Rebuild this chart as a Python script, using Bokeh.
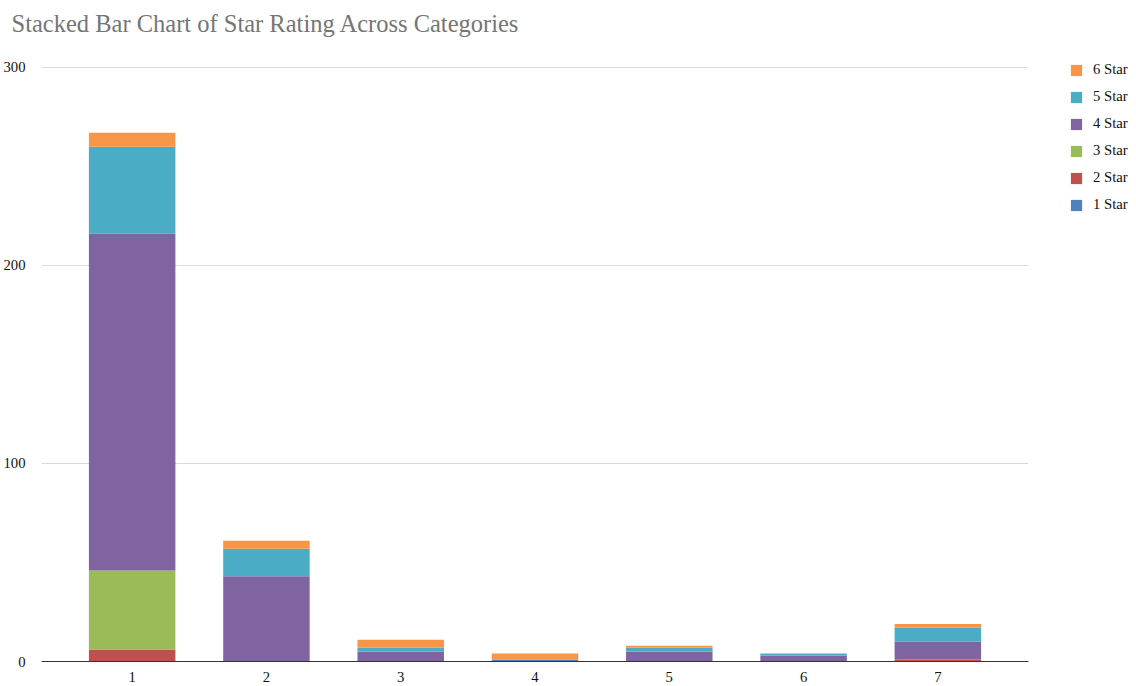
from bokeh.plotting import figure
from bokeh.models import Range1d, FixedTicker, Legend, LegendItem, ColumnDataSource, Title
from bokeh.embed import file_html
from bokeh.resources import INLINE

categories = [1, 2, 3, 4, 5, 6, 7]
star1 = [0, 0, 0, 1, 0, 0, 0]
star2 = [6, 0, 0, 0, 0, 0, 1]
star3 = [40, 0, 0, 0, 0, 0, 0]
star4 = [170, 43, 5, 0, 5, 3, 9]
star5 = [44, 14, 2, 0, 2, 1, 7]
star6 = [7, 4, 4, 3, 1, 0, 2]
series_names = ["1 Star", "2 Star", "3 Star", "4 Star", "5 Star", "6 Star"]
colors = ["#4F81BD", "#C0504D", "#9BBB59", "#8064A2", "#4BACC6", "#F79646"]
y_ticks = [0, 100, 200, 300]

FONT = "Liberation Serif"

source = ColumnDataSource(dict(x=categories, s1=star1, s2=star2, s3=star3,
                               s4=star4, s5=star5, s6=star6))

p = figure(width=1136, height=686, frame_width=987, frame_height=595,
           output_backend="svg", toolbar_location=None,
           x_range=Range1d(0.325, 7.675), y_range=Range1d(0, 300.5),
           title="Stacked Bar Chart of Star Rating Across Categories",
           min_border_left=40, min_border_right=109, min_border_top=66,
           min_border_bottom=24)

p.title.text_font = FONT
p.title.text_font_size = "24.5px"
p.title.text_font_style = "normal"
p.title.text_color = "#757575"
p.title.offset = -30
p.title.standoff = 0

# empty spacer between the title and the plot area
spacer = Title(text=" ", text_font_size="1px", standoff=27)
p.add_layout(spacer, "above")

renderers = p.vbar_stack(["s1", "s2", "s3", "s4", "s5", "s6"], x="x", width=0.644,
                         fill_color=colors, line_color=None, source=source)

p.outline_line_color = None
p.xgrid.grid_line_color = None
p.ygrid.grid_line_color = "#d9d9d9"
p.ygrid.ticker = FixedTicker(ticks=y_ticks)

p.yaxis.ticker = FixedTicker(ticks=y_ticks)
p.yaxis.axis_line_color = None
p.yaxis.major_tick_line_color = None
p.yaxis.minor_tick_line_color = None
p.yaxis.major_label_standoff = 10
p.yaxis.major_label_text_font = FONT
p.yaxis.major_label_text_font_size = "14.7px"
p.yaxis.major_label_text_color = "#111111"

p.xaxis.ticker = FixedTicker(ticks=categories)
p.xaxis.axis_line_color = "#333333"
p.xaxis.major_tick_line_color = None
p.xaxis.minor_tick_line_color = None
p.xaxis.major_label_standoff = 4
p.xaxis.major_label_text_font = FONT
p.xaxis.major_label_text_font_size = "14.7px"
p.xaxis.major_label_text_color = "#111111"

items = [LegendItem(label=series_names[i], renderers=[renderers[i]])
         for i in range(len(series_names) - 1, -1, -1)]
legend = Legend(items=items, location=(41, 448), orientation="vertical",
                glyph_width=14, glyph_height=14, label_standoff=10,
                label_height=14, spacing=10, padding=0, margin=0,
                border_line_color=None, background_fill_alpha=0,
                label_text_font=FONT, label_text_font_size="14.7px",
                label_text_color="#111111")
p.add_layout(legend, "right")

open("out.html", "w").write(file_html(p, INLINE))
